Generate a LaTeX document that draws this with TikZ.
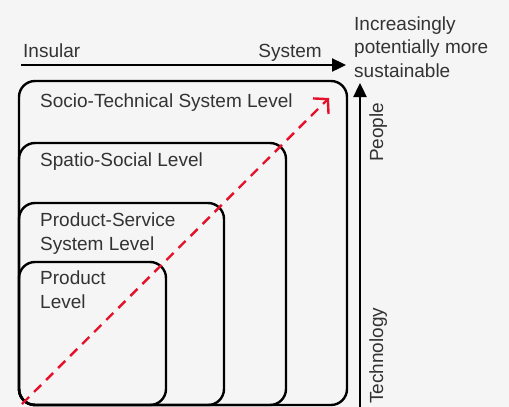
\documentclass[tikz,border=0pt]{standalone}
\usepackage{fontspec}
\setmainfont{Liberation Sans}
\usetikzlibrary{arrows.meta}
\definecolor{bg}{HTML}{F5F5F5}
\definecolor{ink}{HTML}{333333}
\definecolor{accent}{HTML}{E5112B}
\begin{document}
\begin{tikzpicture}[x=1pt,y=-1pt,
  levelbox/.style={draw=black, line width=2.4pt, rounded corners=16pt, outer sep=0pt,
    inner sep=0pt, anchor=north west},
  label/.style={text=ink, font=\fontsize{19}{23.5}\selectfont, inner sep=0pt, align=left},
  axis/.style={line width=2.4pt, -{Triangle[length=14pt,width=13pt]}},
  trend/.style={draw=accent, line width=2.4pt, dash pattern=on 10pt off 7pt,
    -{Straight Barb[length=10pt,width=22pt,line width=2.4pt]}}]
  % canvas
  \fill[bg] (0,0) rectangle (509,407);
  \useasboundingbox (0,0) rectangle (509,407);

  % nested levels, all sharing the left edge
  \node[levelbox, minimum width=328pt, minimum height=324pt] (st)  at (19,81)  {};
  \node[levelbox, minimum width=267pt, minimum height=262pt] (ss)  at (19,143) {};
  \node[levelbox, minimum width=205pt, minimum height=202pt] (pss) at (19,203) {};
  \node[levelbox, minimum width=147pt, minimum height=143pt] (pl)  at (19,262) {};

  % level names (multi-line nodes sit on their last baseline)
  \node[label, anchor=base west] (stl)  at (40,107) {Socio-Technical System Level};
  \node[label, anchor=base west] (ssl)  at (40,166) {Spatio-Social Level};
  \node[label, anchor=base west] (pssl) at (40,250) {Product-Service\\System Level};
  \node[label, anchor=base west] (pll)  at (40,308) {Product\\Level};

  % horizontal scale
  \coordinate (h0) at (21,65);
  \coordinate (h1) at (346,65);
  \draw[axis] (h0) -- (h1);
  \node[label, anchor=base west] (ins) at (23,57) {Insular};
  \node[label, anchor=base east] (sys) at (322,57) {System};
  \node[label, anchor=base west] (goal) at (354,77) {Increasingly\\potentially more\\sustainable};

  % vertical scale
  \coordinate (v0) at (360,407);
  \coordinate (v1) at (360,83);
  \draw[axis] (v0) -- (v1);
  \node[label, rotate=90, anchor=base west] (ppl) at (383,162) {People};
  \node[label, rotate=90, anchor=base west] (tech) at (383,404) {Technology};

  % diagonal trend
  \coordinate (r0) at (22,404);
  \coordinate (r1) at (329,98);
  \draw[trend] (r0) -- (r1);
\end{tikzpicture}
\end{document}
